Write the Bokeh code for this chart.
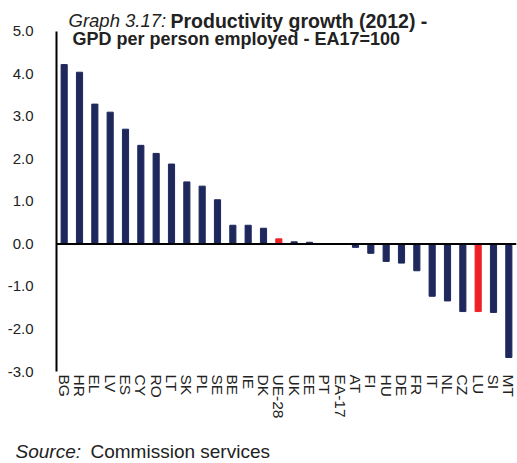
import math
from bokeh.plotting import figure
from bokeh.models import FactorRange, Range1d, FixedTicker, NumeralTickFormatter, Span, Label, ColumnDataSource
from bokeh.embed import file_html
from bokeh.resources import INLINE

countries = ["BG", "HR", "EL", "LV", "ES", "CY", "RO", "LT", "SK", "PL", "SE", "BE", "IE", "DK",
             "UE-28", "UK", "EE", "PT", "EA-17", "AT", "FI", "HU", "DE", "FR", "IT", "NL", "CZ",
             "LU", "SI", "MT"]
growth = [4.22, 4.04, 3.29, 3.10, 2.70, 2.32, 2.13, 1.88, 1.46, 1.36, 1.04, 0.44, 0.44, 0.37,
          0.12, 0.05, 0.04, 0.0, 0.0, -0.08, -0.22, -0.41, -0.45, -0.63, -1.23, -1.34, -1.59,
          -1.59, -1.61, -2.67]
highlight = ["UE-28", "LU"]
y_ticks = [-3, -2, -1, 0, 1, 2, 3, 4, 5]

NAVY = "#1F285C"
RED = "#EE2024"
colors = [RED if c in highlight else NAVY for c in countries]

src = ColumnDataSource(dict(x=countries, top=growth, color=colors))

# frame extends to the top of the canvas so the title can sit inside it
p = figure(width=517, height=463, output_backend="svg", toolbar_location=None,
           x_range=FactorRange(factors=countries, range_padding=0),
           y_range=Range1d(-3, 5 + 31 / 42.625),
           min_border_left=56, min_border_right=1, min_border_top=0, min_border_bottom=91)
p.outline_line_color = None
p.xgrid.visible = False
p.ygrid.visible = False

p.vbar(x="x", top="top", bottom=0, width=0.4, color="color", source=src)

p.add_layout(Span(location=0, dimension="width", line_color="black", line_width=2))

ya = p.yaxis[0]
ya.bounds = (-3, 5)
ya.ticker = FixedTicker(ticks=y_ticks)
ya.formatter = NumeralTickFormatter(format="0.0")
ya.major_tick_line_color = None
ya.minor_tick_line_color = None
ya.axis_line_color = "black"
ya.axis_line_width = 2
ya.major_label_text_font = "Liberation Sans"
ya.major_label_text_font_size = "15px"
ya.major_label_text_color = "#222222"
ya.major_label_standoff = 17

xa = p.xaxis[0]
xa.axis_line_color = None
xa.major_tick_line_color = None
xa.minor_tick_line_color = None
xa.major_label_orientation = -math.pi / 2
xa.major_label_text_font = "Liberation Sans"
xa.major_label_text_font_size = "15.5px"
xa.major_label_text_color = "#222222"
xa.major_label_standoff = -3

title_font = "Liberation Sans"
p.add_layout(Label(x=12, y=351, x_units="screen", y_units="screen", text="Graph 3.17:",
                   text_font=title_font, text_font_style="italic", text_font_size="18.5px",
                   text_color="#222222", text_baseline="alphabetic"))
p.add_layout(Label(x=114, y=351, x_units="screen", y_units="screen", text="Productivity growth (2012) -",
                   text_font=title_font, text_font_style="bold", text_font_size="19.5px",
                   text_color="#222222", text_baseline="alphabetic"))
p.add_layout(Label(x=16, y=333, x_units="screen", y_units="screen", text="GPD per person employed - EA17=100",
                   text_font=title_font, text_font_style="bold", text_font_size="18px",
                   text_color="#222222", text_baseline="alphabetic"))

p.add_layout(Label(x=-41, y=-9, x_units="screen", y_units="screen", text="Source:",
                   text_font=title_font, text_font_style="italic", text_font_size="19px",
                   text_color="#222222", text_baseline="alphabetic"), "below")
p.add_layout(Label(x=34, y=12, x_units="screen", y_units="screen", text="Commission services",
                   text_font=title_font, text_font_size="19px",
                   text_color="#222222", text_baseline="alphabetic"), "below")

open("out.html", "w").write(file_html(p, INLINE))
